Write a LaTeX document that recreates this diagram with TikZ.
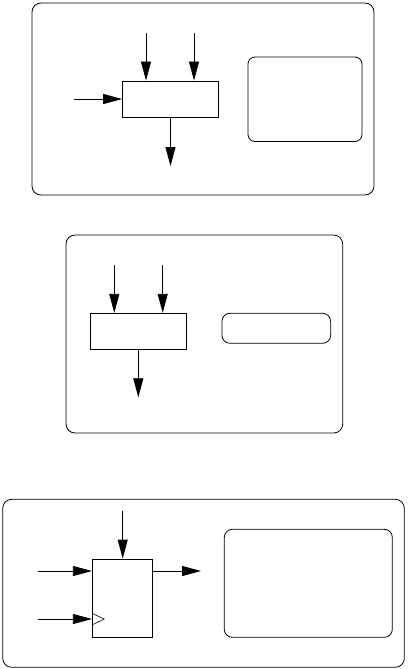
\documentclass[tikz,border=0pt]{standalone}
\usetikzlibrary{arrows.meta}
\begin{document}
\begin{tikzpicture}[x=1pt,y=-1pt,
  line width=0.8pt,
  frame/.style={draw,rounded corners=8pt,inner sep=0pt,minimum width=#1},
  blockbox/.style={draw,inner sep=0pt},
  sig/.style={-{Triangle[length=19pt,width=10pt]}}]
\useasboundingbox (0,0) rectangle (407,669);
% panel 1
\draw[rounded corners=9pt] (32,3) rectangle (374,195);
\node[blockbox,minimum width=96pt,minimum height=36pt] (b1) at (170.5,99) {};
\node[draw,rounded corners=7pt,minimum width=114pt,minimum height=84.5pt,inner sep=0pt] (r1) at (305,99.25) {};
\coordinate (t1a) at (146,33);
\coordinate (t1b) at (194,33);
\coordinate (l1) at (74,99);
\coordinate (o1) at (170.5,166);
\draw[sig] (t1a) -- (t1a |- b1.north);
\draw[sig] (t1b) -- (t1b |- b1.north);
\draw[sig] (l1) -- (b1.west);
\draw[sig] (b1.south) -- (o1);
% panel 2
\draw[rounded corners=9pt] (66,235) rectangle (342.7,433);
\node[blockbox,minimum width=96.7pt,minimum height=36pt] (b2) at (138.3,331.3) {};
\node[draw,rounded corners=8pt,minimum width=108.7pt,minimum height=30pt,inner sep=0pt] (r2) at (276.3,328.3) {};
\coordinate (t2a) at (114.3,265);
\coordinate (t2b) at (162.7,265);
\coordinate (o2) at (138.3,397.3);
\draw[sig] (t2a) -- (t2a |- b2.north);
\draw[sig] (t2b) -- (t2b |- b2.north);
\draw[sig] (b2.south) -- (o2);
% panel 3
\draw[rounded corners=9pt] (2.7,499.3) rectangle (404.3,667.3);
\node[blockbox,minimum width=60.4pt,minimum height=78.3pt] (b3) at (122.5,598.15) {};
\node[draw,rounded corners=8pt,minimum width=168pt,minimum height=108pt,inner sep=0pt] (r3) at (308.3,583.3) {};
\coordinate (t3) at (122.7,511);
\coordinate (l3a) at (38.3,571);
\coordinate (l3b) at (38.3,619);
\coordinate (o3) at (201,571);
\draw[sig] (t3) -- (t3 |- b3.north);
\draw[sig] (l3a) -- (l3a -| b3.west);
\draw[sig] (l3b) -- (l3b -| b3.west);
\draw[sig] (o3 -| b3.east) -- (o3);
\draw[line width=0.6pt] (b3.west |- 0,613.3) -- (104.3,619) -- (b3.west |- 0,625);
\end{tikzpicture}
\end{document}
